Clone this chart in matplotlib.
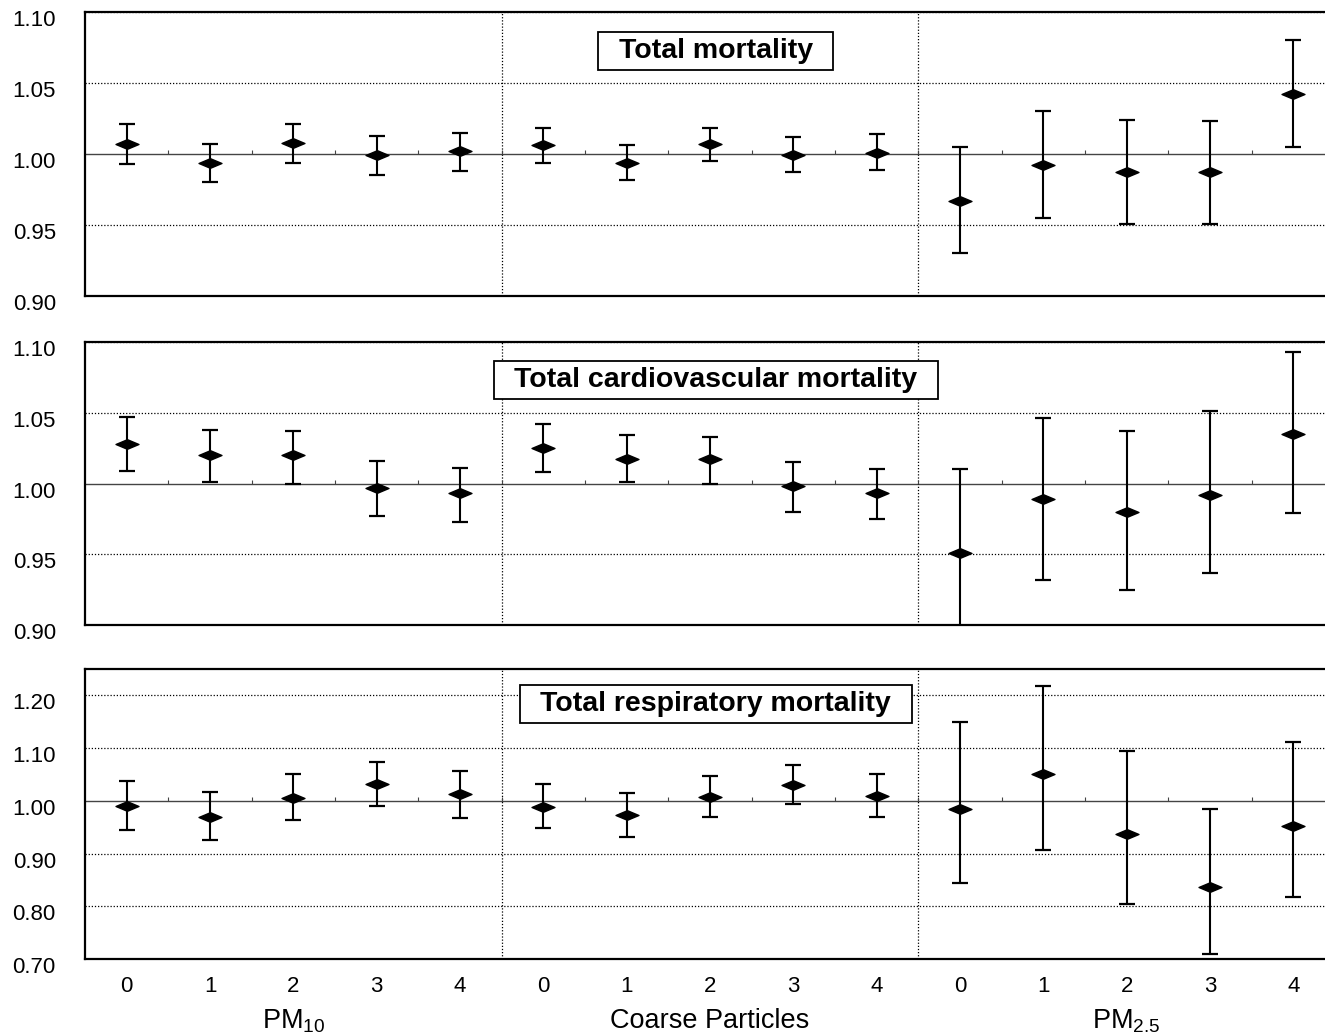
import numpy as np
import matplotlib.pyplot as plt
from matplotlib.transforms import ScaledTranslation, blended_transform_factory
from matplotlib.path import Path

plt.rcParams['font.family'] = ['Liberation Sans', 'DejaVu Sans']
plt.rcParams['mathtext.fontset'] = 'custom'
plt.rcParams['mathtext.rm'] = 'Liberation Sans'
plt.rcParams['mathtext.it'] = 'Liberation Sans'
plt.rcParams['mathtext.default'] = 'regular'

lags = ['0', '1', '2', '3', '4']
groups = ['PM$_{10}$', 'Coarse Particles', 'PM$_{2.5}$']
titles = ['Total mortality', 'Total cardiovascular mortality', 'Total respiratory mortality']

# relative risk estimates, 15 points per panel (PM10 lags 0-4, coarse lags 0-4, PM2.5 lags 0-4)
total_rr = [1.007, 0.994, 1.008, 0.999, 1.002,
            1.006, 0.994, 1.007, 0.999, 1.001,
            0.967, 0.992, 0.987, 0.987, 1.042]
total_lo = [0.993, 0.980, 0.994, 0.985, 0.988,
            0.994, 0.982, 0.995, 0.987, 0.989,
            0.930, 0.955, 0.951, 0.951, 1.005]
total_hi = [1.021, 1.007, 1.021, 1.013, 1.015,
            1.018, 1.006, 1.018, 1.012, 1.014,
            1.005, 1.030, 1.024, 1.023, 1.080]

cardio_rr = [1.028, 1.020, 1.020, 0.997, 0.993,
             1.025, 1.017, 1.017, 0.998, 0.993,
             0.951, 0.989, 0.980, 0.992, 1.035]
cardio_lo = [1.009, 1.001, 1.000, 0.977, 0.973,
             1.008, 1.001, 1.000, 0.980, 0.975,
             0.895, 0.932, 0.925, 0.937, 0.979]
cardio_hi = [1.047, 1.038, 1.037, 1.016, 1.011,
             1.042, 1.034, 1.033, 1.015, 1.010,
             1.010, 1.046, 1.037, 1.051, 1.093]

resp_rr = [0.991, 0.970, 1.006, 1.032, 1.012,
           0.989, 0.973, 1.008, 1.030, 1.010,
           0.984, 1.051, 0.938, 0.837, 0.953]
resp_lo = [0.945, 0.926, 0.963, 0.990, 0.967,
           0.949, 0.932, 0.970, 0.994, 0.970,
           0.844, 0.906, 0.804, 0.710, 0.818]
resp_hi = [1.037, 1.017, 1.051, 1.074, 1.056,
           1.032, 1.015, 1.047, 1.068, 1.051,
           1.149, 1.217, 1.095, 0.984, 1.111]

yticks_list = [[0.90, 0.95, 1.00, 1.05, 1.10],
               [0.90, 0.95, 1.00, 1.05, 1.10],
               [0.70, 0.80, 0.90, 1.00, 1.10, 1.20]]
ylims = [(0.90, 1.10), (0.90, 1.10), (0.70, 1.25)]
title_y = [0.862, 0.866, 0.88]

W, H = 1325, 1036
fig = plt.figure(figsize=(W/100, H/100), dpi=100)
# panel pixel extents (top, bottom)
panels = [(12, 296), (342, 625), (669, 959)]
left, right = 85, 1335

diamond = Path([(-1, 0), (0, 0.42), (1, 0), (0, -0.42), (-1, 0)],
               [Path.MOVETO, Path.LINETO, Path.LINETO, Path.LINETO, Path.CLOSEPOLY])

data = [(total_rr, total_lo, total_hi), (cardio_rr, cardio_lo, cardio_hi), (resp_rr, resp_lo, resp_hi)]
x = np.arange(15)

for i, (top, bot) in enumerate(panels):
    ax = fig.add_axes([left/W, 1-bot/H, (right-left)/W, (bot-top)/H])
    rr, lo, hi = [np.array(a) for a in data[i]]
    ax.set_xlim(-0.5, 14.5)
    ax.set_ylim(*ylims[i])
    for t in yticks_list[i]:
        if abs(t-1.0) > 1e-9:
            ax.axhline(t, color='black', lw=0.9, ls=(0, (1, 1.5)), zorder=1)
    ax.axhline(1.0, color='#444444', lw=1.0, zorder=1)
    ax.plot(np.arange(0.5, 14, 1.0), np.ones(14), ls='none', marker=2, ms=3, color='#444444', mew=0.8)
    for sep in (4.5, 9.5):
        ax.axvline(sep, color='black', lw=0.9, ls=(0, (1, 1.5)), zorder=1)
    ax.errorbar(x, rr, yerr=[rr-lo, hi-rr], fmt='none', ecolor='black', elinewidth=1.5,
                capsize=5.8, capthick=1.6, zorder=3)
    ax.plot(x, rr, ls='none', marker=diamond, ms=16.5, color='black', zorder=4)

    for s in ('left', 'top', 'bottom'):
        ax.spines[s].set_linewidth(1.6)
    ax.spines['right'].set_visible(False)

    ax.set_yticks(yticks_list[i])
    ax.set_yticklabels(['%.2f' % t for t in yticks_list[i]], fontsize=16)
    ax.tick_params(axis='y', length=0, pad=21)
    off = ScaledTranslation(0, -6/100, fig.dpi_scale_trans)
    for lab in ax.get_yticklabels():
        lab.set_horizontalalignment('right')
        lab.set_transform(lab.get_transform() + off)

    if i == 2:
        ax.set_xticks(x)
        ax.set_xticklabels(lags * 3, fontsize=16)
        ax.tick_params(axis='x', length=0, pad=12)
        tr = blended_transform_factory(ax.transData, ax.transAxes)
        for g, name in enumerate(groups):
            ax.text(g*5 + 2, -0.215, name, transform=tr, ha='center', va='center', fontsize=19.5)
    else:
        ax.set_xticks([])

    ax.text(7.07, title_y[i], titles[i], transform=blended_transform_factory(ax.transData, ax.transAxes),
            ha='center', va='center', fontsize=20.5, fontweight='bold', zorder=5,
            bbox=dict(boxstyle='square,pad=0.72', mutation_aspect=0.3, fc='white', ec='black', lw=1.3))

fig.savefig('out.png', dpi=100)
